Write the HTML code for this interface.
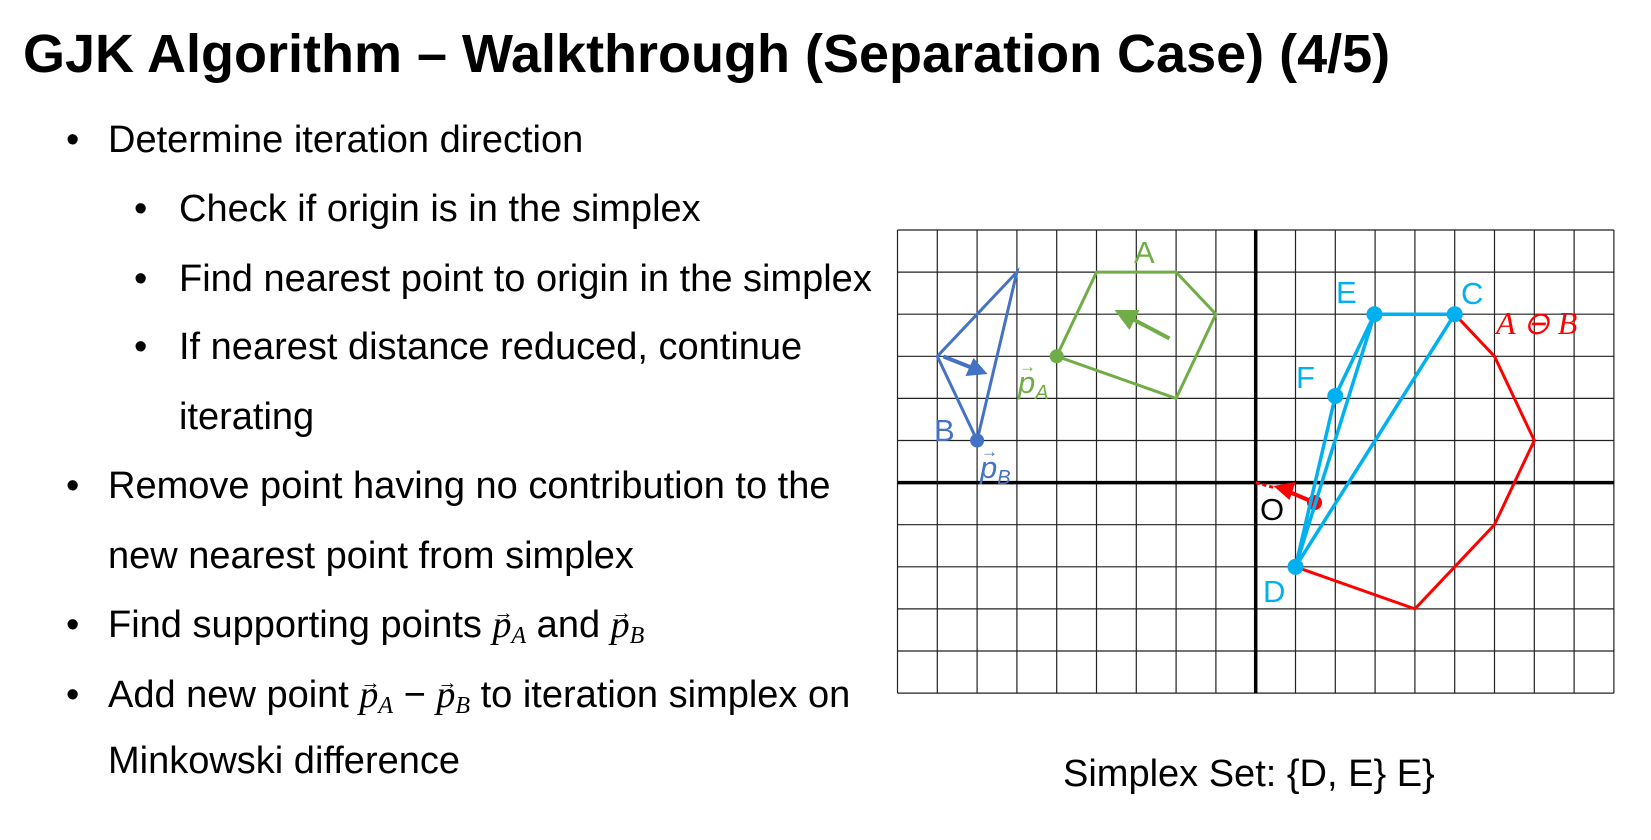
<!DOCTYPE html>
<html><head><meta charset="utf-8"><style>
html,body{margin:0;padding:0;background:#fff;}
body{position:relative;width:1651px;height:840px;overflow:hidden;font-family:"Liberation Sans",Arial,sans-serif;}
svg{position:absolute;left:0;top:0;}
text{font-family:"Liberation Sans",Arial,sans-serif;}
.m{font-family:"Liberation Serif",serif;font-style:italic;}
.l{position:absolute;font-size:38px;line-height:38px;white-space:nowrap;color:#000;}
.v{position:relative;display:inline-block;font-family:"Liberation Serif",serif;font-style:italic;}
.v sub{font-size:24px;vertical-align:-6px;line-height:0;}
.v:before{content:"→";position:absolute;left:1px;top:-12px;font-size:20px;font-style:normal;font-family:"Liberation Sans",sans-serif;}
</style></head><body>
<svg width="1651" height="840" viewBox="0 0 1651 840" xmlns="http://www.w3.org/2000/svg">
<rect width="1651" height="840" fill="#fff"/>
<text x="23" y="72" font-size="54" font-weight="bold" fill="#000">GJK Algorithm – Walkthrough (Separation Case) (4/5)</text>
<text x="1063" y="786" font-size="38" fill="#000">Simplex Set: {D, E} E}</text>

<g transform="translate(897.5,230)">
<g stroke="#222" stroke-width="1.2" fill="none">
<path d="M0 0V463.1M39.8 0V463.1M79.6 0V463.1M119.4 0V463.1M159.2 0V463.1M199 0V463.1M238.8 0V463.1M278.6 0V463.1M318.4 0V463.1M398 0V463.1M437.8 0V463.1M477.6 0V463.1M517.4 0V463.1M557.2 0V463.1M597 0V463.1M636.8 0V463.1M676.6 0V463.1M716.4 0V463.1"/>
<path d="M0 0H716.4M0 42.1H716.4M0 84.2H716.4M0 126.3H716.4M0 168.4H716.4M0 210.5H716.4M0 294.7H716.4M0 336.8H716.4M0 378.9H716.4M0 421H716.4M0 463.1H716.4"/>
</g>
<path d="M358.2 0V463.1M0 252.6H716.4" stroke="#000" stroke-width="3.5"/>
<polygon points="119.4,42.1 39.8,126.3 79.6,210.5" fill="none" stroke="#4472c4" stroke-width="3"/>
<line x1="46" y1="126.5" x2="75" y2="138" stroke="#4472c4" stroke-width="4"/>
<polygon points="90,144 68,146 76,128" fill="#4472c4"/>
<circle cx="79.6" cy="210.5" r="7" fill="#4472c4"/>
<polygon points="199,42.1 278.6,42.1 318.4,84.2 278.6,168.4 159.2,126.3" fill="none" stroke="#70ad47" stroke-width="3"/>
<line x1="272" y1="108.5" x2="235" y2="89" stroke="#70ad47" stroke-width="4"/>
<polygon points="217,80 242,80 232,100" fill="#70ad47"/>
<circle cx="159.2" cy="126.3" r="7" fill="#70ad47"/>
<polyline points="557.2,84.2 597,126.3 636.8,210.5 597,294.7 557.2,336.8 517.4,378.9 398,336.8" fill="none" stroke="#f00" stroke-width="3"/>
<line x1="358.2" y1="252.6" x2="378" y2="258" stroke="#f00" stroke-width="3" stroke-dasharray="4,3"/>
<line x1="417" y1="272.6" x2="392" y2="262" stroke="#f00" stroke-width="4"/>
<polygon points="376,256 398,252 392,270" fill="#f00"/>
<circle cx="417" cy="272.6" r="7.5" fill="#f00"/>
<g stroke="#00b0f0" stroke-width="3.5" fill="none">
<polyline points="398,336.8 437.8,166 477,84.2 557.2,84.2 398,336.8 477,84.2"/>
</g>
<g fill="#00b0f0"><circle cx="477" cy="84.2" r="8"/><circle cx="557.2" cy="84.2" r="8"/><circle cx="437.8" cy="166" r="8"/><circle cx="398" cy="336.8" r="8"/></g>
</g>
<g font-size="31">
<text x="1134" y="263" fill="#70ad47">A</text>
<text x="1336" y="303" fill="#00b0f0">E</text>
<text x="1461" y="304" fill="#00b0f0">C</text>
<text x="1296" y="388" fill="#00b0f0">F</text>
<text x="1263" y="602" fill="#00b0f0">D</text>
<text x="934" y="441" fill="#4472c4">B</text>
<text x="1260" y="520" fill="#000">O</text>
</g>
<text x="1496" y="334" font-size="32" fill="#f00" class="m">A ⊖ B</text>
<g class="m">
<text x="1018" y="393" font-size="31" fill="#70ad47">p<tspan font-size="20" dy="6">A</tspan></text>
<text x="1019" y="372" font-size="17" fill="#70ad47" font-style="normal">→</text>
<text x="980" y="478" font-size="31" fill="#4472c4">p<tspan font-size="20" dy="6">B</tspan></text>
<text x="981" y="457" font-size="17" fill="#4472c4" font-style="normal">→</text>
</g>
</svg>

<div class="l" style="left:66px;top:121px">•</div><div class="l" style="left:108px;top:121px">Determine iteration direction</div>
<div class="l" style="left:134px;top:190px">•</div><div class="l" style="left:179px;top:190px">Check if origin is in the simplex</div>
<div class="l" style="left:134px;top:260px">•</div><div class="l" style="left:179px;top:260px">Find nearest point to origin in the simplex</div>
<div class="l" style="left:134px;top:328px">•</div><div class="l" style="left:179px;top:328px">If nearest distance reduced, continue</div>
<div class="l" style="left:179px;top:398px">iterating</div>
<div class="l" style="left:66px;top:467px">•</div><div class="l" style="left:108px;top:467px">Remove point having no contribution to the</div>
<div class="l" style="left:108px;top:537px">new nearest point from simplex</div>
<div class="l" style="left:66px;top:606px">•</div><div class="l" style="left:108px;top:606px">Find supporting points <span class="v">p<sub>A</sub></span> and <span class="v">p<sub>B</sub></span></div>
<div class="l" style="left:66px;top:676px">•</div><div class="l" style="left:108px;top:676px">Add new point <span class="v">p<sub>A</sub></span> − <span class="v">p<sub>B</sub></span> to iteration simplex on</div>
<div class="l" style="left:108px;top:742px">Minkowski difference</div>
</body></html>
